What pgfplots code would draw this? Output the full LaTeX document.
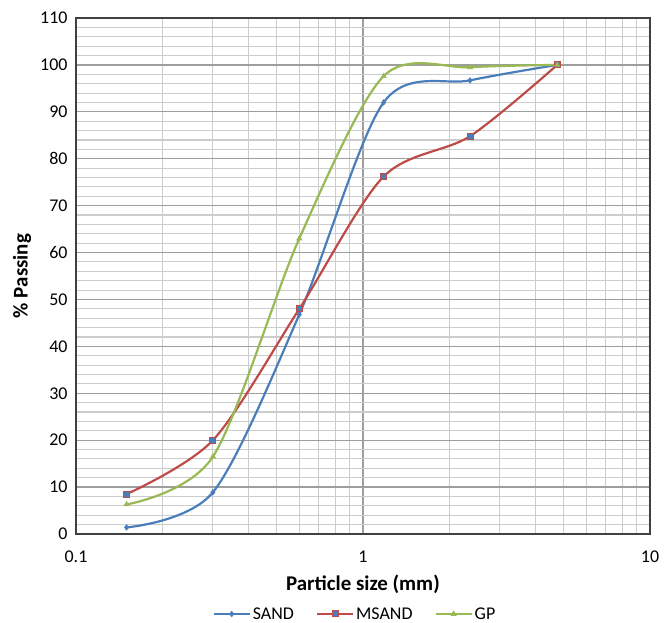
\documentclass[border=0pt]{standalone}
\usepackage{pgfplots}
\pgfplotsset{compat=1.18}
\usepackage{fontspec}
\setmainfont{Carlito}
\definecolor{cblue}{HTML}{4A7EBB}
\definecolor{cred}{HTML}{BE4B48}
\definecolor{cgreen}{HTML}{98B954}
\begin{document}
\begin{tikzpicture}[x=1bp,y=1bp]
\begin{axis}[
  at={(0,0)}, anchor=south west,
  scale only axis, width=574bp, height=516bp,
  xmode=log, xmin=0.1, xmax=10,
  ymin=0, ymax=110,
  xtick={0.1,1,10}, xticklabels={0.1,1,10},
  ytick={0,10,...,110},
  minor y tick num=4,
  grid=both,
  major grid style={draw=black!38, line width=1.2pt},
  minor grid style={draw=black!20, line width=1.1pt},
  axis line style={black!75, line width=1.3pt, -},
  major tick length=0pt, minor tick length=0pt,
  tick label style={font=\fontsize{18}{21}\selectfont},
  xticklabel style={yshift=-13bp},
  yticklabel style={xshift=-5bp},
  /pgf/number format/assume math mode=true,
  xlabel={\textbf{Particle size (mm)}},
  ylabel={\textbf{\% Passing}},
  label style={font=\fontsize{21}{25}\selectfont},
  xlabel style={at={(axis description cs:0.5,0)}, anchor=center, yshift=-50bp},
  ylabel style={at={(axis description cs:0,0.5)}, anchor=center, yshift=54bp},
  legend columns=3,
  legend style={draw=none, fill=none, at={(0.486,-0.155)}, anchor=center,
    font=\fontsize{18}{21}\selectfont, inner sep=0pt,
    /tikz/every even column/.append style={column sep=20bp}},
  legend image code/.code={\draw[#1] (0bp,0bp) -- (36bp,0bp); \draw[#1,mark repeat=2,mark phase=2] plot coordinates {(0bp,0bp) (18bp,0bp) (36bp,0bp)};},
]
\addplot[cblue, line width=2.2pt, smooth, tension=0.5, mark=diamond*, mark size=2.8bp, mark options={fill=cblue, line width=0.6pt}]
  coordinates {(0.15,1.4) (0.3,8.9) (0.6,46.8) (1.18,92) (2.36,96.7) (4.75,100)};
\addlegendentry{SAND}
\addplot[cred, line width=2.2pt, smooth, tension=0.5, mark=square*, mark size=3bp, mark options={fill=cblue, draw=cred, line width=1pt}]
  coordinates {(0.15,8.5) (0.3,20) (0.6,48) (1.18,76.2) (2.36,84.8) (4.75,100)};
\addlegendentry{MSAND}
\addplot[cgreen, line width=2.2pt, smooth, tension=0.5, mark=triangle*, mark size=3bp, mark options={fill=cgreen, line width=0.6pt}]
  coordinates {(0.15,6.3) (0.3,16.5) (0.6,63) (1.18,97.6) (2.36,99.5) (4.75,100)};
\addlegendentry{GP}
\end{axis}
\path[use as bounding box] (-76bp,-88bp) rectangle (594bp,534bp);
\end{tikzpicture}
\end{document}
